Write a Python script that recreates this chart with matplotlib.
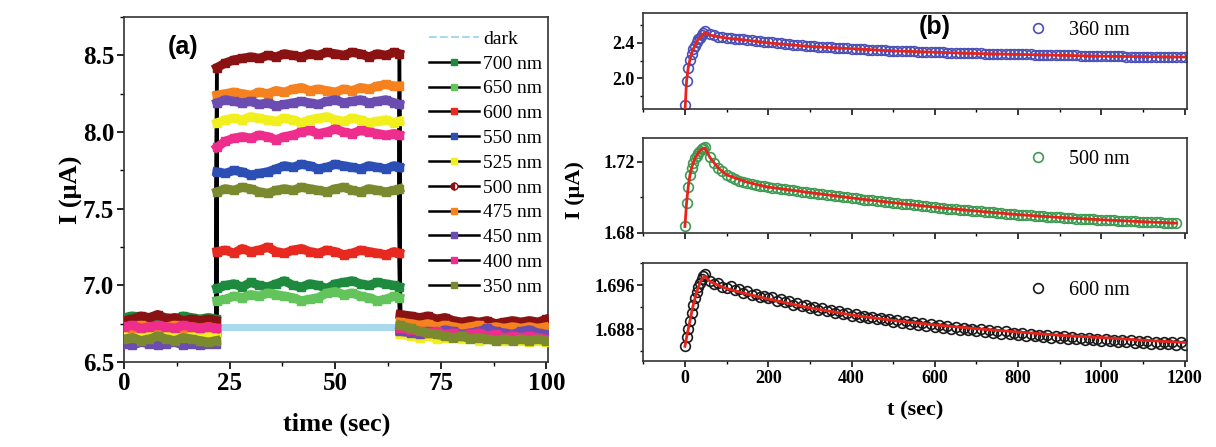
import numpy as np
import matplotlib
import matplotlib.pyplot as plt
from matplotlib.lines import Line2D
from matplotlib.ticker import MultipleLocator, FormatStrFormatter

matplotlib.use("Agg")

plt.rcParams["font.family"] = ["Liberation Serif", "DejaVu Serif"]

# ---------------- panel (a) data ----------------
T_PRE = [0, 2, 4, 6, 8, 10, 12, 14, 16, 18, 20, 21.8]
T_ON = [22, 24, 26, 28, 30, 32, 34, 36, 38, 40, 42, 44, 46, 48, 50, 52, 54, 56,
        58, 60, 62, 64, 65.2]
T_POST = [65.4, 68, 70, 72, 74, 76, 78, 80, 82, 84, 86, 88, 90, 92, 94, 96, 98, 100]

DARK_T = [0, 22, 65, 100]
DARK_I = [6.73, 6.73, 6.73, 6.73]

LABELS_A = ["700 nm", "650 nm", "600 nm", "550 nm", "525 nm", "500 nm",
            "475 nm", "450 nm", "400 nm", "350 nm"]
COLORS_A = ["#1d8a3e", "#62c45a", "#e8291f", "#2b4fb5", "#f2ef1e", "#8a1212",
            "#f5821f", "#6b4cb0", "#ee2d8c", "#7b8a2e"]

I_700 = [6.79, 6.80, 6.78, 6.79, 6.80, 6.79, 6.78, 6.80, 6.79, 6.78, 6.79, 6.78,
         6.98, 7.00, 7.01, 6.99, 7.02, 7.00, 6.99, 7.01, 7.03, 7.00, 6.99, 7.01,
         7.00, 6.98, 7.01, 7.02, 7.03, 7.01, 7.00, 7.02, 7.01, 7.00, 6.99,
         6.74, 6.73, 6.72, 6.73, 6.71, 6.72, 6.70, 6.71, 6.72, 6.70, 6.71, 6.69,
         6.70, 6.71, 6.70, 6.69, 6.70, 6.69]
I_650 = [6.70, 6.71, 6.69, 6.70, 6.71, 6.70, 6.69, 6.70, 6.71, 6.70, 6.69, 6.70,
         6.90, 6.91, 6.93, 6.92, 6.94, 6.93, 6.95, 6.94, 6.93, 6.92, 6.90, 6.91,
         6.92, 6.95, 6.96, 6.94, 6.95, 6.93, 6.92, 6.90, 6.91, 6.93, 6.92,
         6.70, 6.69, 6.68, 6.69, 6.67, 6.68, 6.67, 6.68, 6.66, 6.67, 6.68, 6.66,
         6.67, 6.66, 6.67, 6.66, 6.65, 6.66]
I_600 = [6.72, 6.71, 6.73, 6.72, 6.71, 6.72, 6.73, 6.71, 6.72, 6.71, 6.72, 6.71,
         7.22, 7.23, 7.21, 7.24, 7.22, 7.23, 7.25, 7.22, 7.21, 7.23, 7.24, 7.22,
         7.21, 7.23, 7.22, 7.20, 7.21, 7.23, 7.22, 7.21, 7.20, 7.22, 7.21,
         6.72, 6.71, 6.70, 6.71, 6.70, 6.69, 6.70, 6.69, 6.70, 6.68, 6.69, 6.70,
         6.68, 6.69, 6.68, 6.69, 6.68, 6.67]
I_550 = [6.70, 6.69, 6.70, 6.71, 6.69, 6.70, 6.68, 6.70, 6.69, 6.70, 6.68, 6.69,
         7.74, 7.73, 7.75, 7.74, 7.72, 7.73, 7.74, 7.76, 7.78, 7.77, 7.79, 7.78,
         7.76, 7.77, 7.79, 7.78, 7.77, 7.76, 7.78, 7.77, 7.76, 7.78, 7.77,
         6.70, 6.69, 6.68, 6.70, 6.68, 6.69, 6.67, 6.68, 6.69, 6.67, 6.68, 6.66,
         6.67, 6.68, 6.66, 6.67, 6.66, 6.67]
I_525 = [6.68, 6.67, 6.69, 6.68, 6.67, 6.68, 6.69, 6.67, 6.68, 6.67, 6.68, 6.67,
         8.06, 8.08, 8.09, 8.08, 8.10, 8.09, 8.08, 8.07, 8.09, 8.08, 8.06, 8.08,
         8.09, 8.10, 8.08, 8.07, 8.09, 8.08, 8.06, 8.07, 8.08, 8.06, 8.07,
         6.68, 6.67, 6.66, 6.67, 6.65, 6.66, 6.67, 6.65, 6.66, 6.64, 6.65, 6.66,
         6.64, 6.65, 6.64, 6.63, 6.64, 6.63]
I_500 = [6.77, 6.78, 6.80, 6.79, 6.81, 6.78, 6.79, 6.77, 6.78, 6.77, 6.78, 6.77,
         8.42, 8.45, 8.47, 8.48, 8.49, 8.48, 8.50, 8.49, 8.51, 8.50, 8.49, 8.51,
         8.50, 8.52, 8.51, 8.50, 8.52, 8.51, 8.49, 8.51, 8.50, 8.52, 8.51,
         6.81, 6.80, 6.79, 6.80, 6.78, 6.79, 6.77, 6.76, 6.77, 6.76, 6.77, 6.75,
         6.76, 6.77, 6.76, 6.77, 6.76, 6.78]
I_475 = [6.73, 6.72, 6.74, 6.73, 6.72, 6.73, 6.74, 6.72, 6.73, 6.72, 6.73, 6.72,
         8.24, 8.25, 8.26, 8.25, 8.24, 8.26, 8.25, 8.27, 8.26, 8.28, 8.29, 8.27,
         8.28, 8.27, 8.26, 8.28, 8.27, 8.29, 8.28, 8.30, 8.31, 8.30, 8.30,
         6.76, 6.75, 6.74, 6.75, 6.73, 6.74, 6.73, 6.72, 6.73, 6.74, 6.72, 6.73,
         6.72, 6.73, 6.72, 6.73, 6.72, 6.73]
I_450 = [6.62, 6.61, 6.63, 6.62, 6.61, 6.62, 6.63, 6.61, 6.62, 6.61, 6.62, 6.62,
         8.19, 8.21, 8.20, 8.19, 8.20, 8.18, 8.19, 8.17, 8.18, 8.19, 8.20, 8.19,
         8.18, 8.20, 8.21, 8.19, 8.20, 8.21, 8.19, 8.20, 8.21, 8.19, 8.18,
         6.70, 6.69, 6.68, 6.70, 6.69, 6.71, 6.70, 6.68, 6.69, 6.70, 6.72, 6.70,
         6.69, 6.68, 6.70, 6.71, 6.69, 6.68]
I_400 = [6.73, 6.74, 6.72, 6.73, 6.74, 6.73, 6.72, 6.74, 6.73, 6.72, 6.73, 6.72,
         7.90, 7.94, 7.96, 7.97, 7.96, 7.98, 7.97, 7.95, 7.97, 7.98, 8.00, 8.01,
         7.99, 8.00, 8.02, 8.00, 7.99, 8.01, 8.00, 7.99, 7.98, 7.99, 7.98,
         6.72, 6.71, 6.70, 6.69, 6.70, 6.68, 6.69, 6.67, 6.68, 6.69, 6.67, 6.68,
         6.66, 6.67, 6.66, 6.67, 6.66, 6.65]
I_350 = [6.65, 6.66, 6.64, 6.65, 6.67, 6.65, 6.64, 6.66, 6.65, 6.64, 6.63, 6.64,
         7.61, 7.63, 7.62, 7.64, 7.63, 7.61, 7.60, 7.62, 7.63, 7.62, 7.64, 7.63,
         7.62, 7.61, 7.63, 7.64, 7.62, 7.61, 7.63, 7.62, 7.61, 7.62, 7.63,
         6.74, 6.72, 6.70, 6.69, 6.68, 6.67, 6.66, 6.67, 6.65, 6.66, 6.65, 6.64,
         6.65, 6.64, 6.65, 6.64, 6.65, 6.64]
SERIES_A = [I_700, I_650, I_600, I_550, I_525, I_500, I_475, I_450, I_400, I_350]

# ---------------- panel (b) data ----------------
T_RISE = [0, 4, 8, 12, 16, 20, 24, 28, 32, 36, 40, 44, 48]
T_DECAY = list(range(60, 1201, 10))
FIT_T = [0, 4, 8, 12, 16, 20, 24, 28, 32, 36, 40, 44, 48, 60, 80, 100, 150, 200,
         300, 400, 500, 600, 700, 800, 900, 1000, 1100, 1200]
FIT_T_500 = FIT_T[:-1] + [1180]

I360 = [1.70, 1.97, 2.12, 2.21, 2.28, 2.33, 2.37, 2.41, 2.44, 2.46, 2.49, 2.51, 2.53,
        2.500, 2.485, 2.472, 2.466, 2.460, 2.455, 2.450, 2.446, 2.441, 2.436,
        2.431, 2.426, 2.421, 2.416, 2.411, 2.406, 2.401, 2.396, 2.391, 2.386,
        2.381, 2.377, 2.373, 2.369, 2.365, 2.361, 2.358, 2.355, 2.352, 2.349,
        2.346, 2.343, 2.340, 2.337, 2.335, 2.332, 2.330, 2.327, 2.325, 2.323,
        2.320, 2.318, 2.316, 2.314, 2.312, 2.310, 2.308, 2.306, 2.305, 2.303,
        2.301, 2.300, 2.298, 2.297, 2.295, 2.294, 2.292, 2.291, 2.290, 2.288,
        2.287, 2.286, 2.285, 2.284, 2.282, 2.281, 2.280, 2.279, 2.278, 2.277,
        2.276, 2.275, 2.274, 2.273, 2.272, 2.271, 2.270, 2.269, 2.268, 2.267,
        2.266, 2.265, 2.264, 2.263, 2.262, 2.261, 2.260, 2.259, 2.258, 2.257,
        2.256, 2.255, 2.254, 2.253, 2.252, 2.251, 2.250, 2.249, 2.248, 2.247,
        2.246, 2.246, 2.245, 2.244, 2.243, 2.243, 2.242, 2.241, 2.240, 2.240,
        2.239, 2.238, 2.238, 2.237, 2.236]
FIT360 = [1.62, 1.97, 2.12, 2.21, 2.28, 2.33, 2.37, 2.41, 2.44, 2.46, 2.48, 2.50,
          2.52, 2.49, 2.47, 2.455, 2.43, 2.40, 2.36, 2.335, 2.31, 2.295, 2.28,
          2.27, 2.26, 2.25, 2.245, 2.24]

I500 = [1.6836, 1.6970, 1.7060, 1.7125, 1.7165, 1.7195, 1.7220, 1.7235, 1.7250,
        1.7262, 1.7272, 1.7280, 1.7285,
        1.7228, 1.7195, 1.7168, 1.7146, 1.7128, 1.7115, 1.7104, 1.7095, 1.7088, 1.7082,
        1.7076, 1.7071, 1.7066, 1.7062, 1.7058, 1.7054, 1.7051, 1.7048, 1.7045, 1.7042,
        1.7039, 1.7036, 1.7033, 1.7030, 1.7027, 1.7024, 1.7021, 1.7018, 1.7015, 1.7012,
        1.7009, 1.7006, 1.7003, 1.7000, 1.6997, 1.6994, 1.6991, 1.6988, 1.6986, 1.6983,
        1.6980, 1.6977, 1.6975, 1.6972, 1.6970, 1.6967, 1.6965, 1.6962, 1.6960, 1.6957,
        1.6955, 1.6952, 1.6950, 1.6947, 1.6945, 1.6942, 1.6940, 1.6937, 1.6935, 1.6933,
        1.6931, 1.6929, 1.6927, 1.6925, 1.6923, 1.6921, 1.6919, 1.6917, 1.6915, 1.6913,
        1.6911, 1.6909, 1.6907, 1.6905, 1.6903, 1.6901, 1.6900, 1.6898, 1.6896, 1.6894,
        1.6893, 1.6891, 1.6890, 1.6888, 1.6887, 1.6885, 1.6884, 1.6882, 1.6881, 1.6880,
        1.6879, 1.6877, 1.6876, 1.6875, 1.6874, 1.6872, 1.6871, 1.6870, 1.6869, 1.6868,
        1.6867, 1.6866, 1.6865, 1.6864, 1.6863, 1.6862, 1.6861, 1.6860, 1.6859, 1.6858,
        1.6857, 1.6856, 1.6855]
FIT500 = [1.6836, 1.6970, 1.7060, 1.7125, 1.7165, 1.7195, 1.7220, 1.7235, 1.7250,
          1.7262, 1.7270, 1.7275, 1.7278, 1.7225, 1.7165, 1.7127, 1.7085, 1.7058,
          1.7027, 1.6997, 1.6970, 1.6945, 1.6923, 1.6903, 1.6887, 1.6874, 1.6863,
          1.6855]

I600 = [1.6849, 1.6866, 1.6880, 1.6895, 1.6910, 1.6925, 1.6937, 1.6948, 1.6957,
        1.6965, 1.6972, 1.6977, 1.6981,
        1.6968, 1.6962, 1.6964, 1.6957, 1.6955, 1.6958, 1.6951, 1.6953, 1.6946, 1.6949,
        1.6942, 1.6945, 1.6939, 1.6941, 1.6936, 1.6938, 1.6931, 1.6935, 1.6929, 1.6931,
        1.6925, 1.6928, 1.6922, 1.6925, 1.6918, 1.6921, 1.6915, 1.6919, 1.6913, 1.6915,
        1.6910, 1.6913, 1.6907, 1.6910, 1.6904, 1.6908, 1.6902, 1.6905, 1.6900, 1.6903,
        1.6898, 1.6901, 1.6896, 1.6899, 1.6894, 1.6897, 1.6892, 1.6895, 1.6890, 1.6893,
        1.6888, 1.6891, 1.6886, 1.6889, 1.6884, 1.6887, 1.6882, 1.6886, 1.6881, 1.6884,
        1.6879, 1.6883, 1.6878, 1.6881, 1.6876, 1.6880, 1.6875, 1.6878, 1.6874, 1.6877,
        1.6872, 1.6876, 1.6871, 1.6874, 1.6870, 1.6873, 1.6868, 1.6872, 1.6867, 1.6870,
        1.6866, 1.6869, 1.6865, 1.6868, 1.6864, 1.6867, 1.6863, 1.6866, 1.6862, 1.6865,
        1.6861, 1.6864, 1.6860, 1.6863, 1.6859, 1.6862, 1.6858, 1.6861, 1.6857, 1.6860,
        1.6856, 1.6860, 1.6855, 1.6859, 1.6855, 1.6858, 1.6854, 1.6857, 1.6853, 1.6857,
        1.6853, 1.6856, 1.6852, 1.6856, 1.6852]
FIT600 = [1.6849, 1.6865, 1.6880, 1.6895, 1.6910, 1.6924, 1.6936, 1.6947, 1.6956,
          1.6964, 1.6970, 1.6974, 1.6976, 1.6967, 1.6960, 1.6954, 1.6944, 1.6935,
          1.6919, 1.6906, 1.6896, 1.6888, 1.6881, 1.6875, 1.6869, 1.6865, 1.6860,
          1.6856]

fig = plt.figure(figsize=(12.16, 4.47), dpi=100)

# ---------------- panel (a) ----------------
ax = fig.add_axes([0.102, 0.190, 0.349, 0.772])
ax.plot(DARK_T, DARK_I, color="#a9d9ec", lw=5, zorder=1.5)

t_all = T_PRE + T_ON + T_POST
n1, n2 = len(T_PRE), len(T_PRE) + len(T_ON)
for vals in SERIES_A:
    ax.plot(t_all, vals, color="black", lw=2.8, zorder=2)
for vals, c in zip(SERIES_A, COLORS_A):
    for ts, vs in ((T_PRE, vals[:n1]), (T_ON, vals[n1:n2]), (T_POST, vals[n2:])):
        ax.plot(ts, vs, color=c, lw=6.5, marker="s", ms=5.5, mec=c, zorder=3)

ax.set_xlim(0, 100.5)
ax.set_ylim(6.5, 8.75)
ax.xaxis.set_major_locator(MultipleLocator(25))
ax.xaxis.set_minor_locator(MultipleLocator(12.5))
ax.yaxis.set_major_locator(MultipleLocator(0.5))
ax.yaxis.set_minor_locator(MultipleLocator(0.25))
ax.yaxis.set_major_formatter(FormatStrFormatter("%.1f"))
ax.tick_params(which="major", direction="out", length=5, width=1.2,
               labelsize=18, pad=2)
ax.tick_params(which="minor", direction="out", length=3, width=1)
for lab in ax.get_xticklabels() + ax.get_yticklabels():
    lab.set_fontweight("bold")
for sp in ax.spines.values():
    sp.set_linewidth(1.2)
    sp.set_color("#333333")
ax.set_xlabel("time (sec)", fontsize=19, fontweight="bold", labelpad=13)
ax.set_ylabel("I (\u03bcA)", fontsize=19, fontweight="bold", labelpad=0)
ax.text(0.139, 0.913, "(a)", transform=ax.transAxes, fontsize=18,
        fontweight="bold", family=["Liberation Sans", "DejaVu Sans"],
        ha="center", va="center")

handles = [Line2D([], [], color="#a9d9ec", lw=1.5, ls="--")]
for lab, c in zip(LABELS_A, COLORS_A):
    if lab == "500 nm":
        handles.append(Line2D([], [], color="black", lw=1.8, marker="o", ms=5,
                              fillstyle="left", mfc=c, mfcalt="white", mec=c))
    else:
        handles.append(Line2D([], [], color="black", lw=1.8, marker="s", ms=5,
                              mfc=c, mec=c))
leg = ax.legend(handles, ["dark"] + LABELS_A, loc="upper left",
                bbox_to_anchor=(0.695, 0.99), frameon=False, fontsize=14,
                labelspacing=0.37, handlelength=2.6, handletextpad=0.2,
                borderpad=0, numpoints=1)

# ---------------- panel (b) ----------------
x0, w = 0.529, 0.447
boxes = [[x0, 0.756, w, 0.215], [x0, 0.479, w, 0.2125], [x0, 0.192, w, 0.219]]
t_b = T_RISE + T_DECAY
panels = [
    (I360, t_b, FIT360, FIT_T, "#4a50b5", "360 nm", (1.65, 2.74), 0.4, 0.2, "%.1f", 0.82),
    (I500, t_b[:-2], FIT500, FIT_T_500, "#3e9a52", "500 nm", (1.68, 1.7335), 0.04, 0.02, "%.2f", 0.77),
    (I600, t_b, FIT600, FIT_T, "#1a1a1a", "600 nm", (1.6822, 1.700), 0.008, 0.004, "%.3f", 0.72),
]
axes_b = []
for box, (vals, ts, fit, fit_t, c, lab, ylim, maj, mnr, fmt, ly) in zip(boxes, panels):
    axb = fig.add_axes(box)
    axb.plot(ts, vals, ls="none", marker="o", ms=7, mfc="none", mec=c,
             mew=1.2, zorder=2)
    axb.plot(fit_t, fit, color="#e8241a", lw=2, zorder=3)
    axb.set_xlim(-100, 1205)
    axb.set_ylim(*ylim)
    axb.xaxis.set_major_locator(MultipleLocator(200))
    axb.xaxis.set_minor_locator(MultipleLocator(100))
    axb.yaxis.set_major_locator(MultipleLocator(maj))
    axb.yaxis.set_minor_locator(MultipleLocator(mnr))
    axb.yaxis.set_major_formatter(FormatStrFormatter(fmt))
    axb.tick_params(which="major", direction="out", length=4, width=1.1,
                    labelsize=13, pad=2)
    axb.tick_params(which="minor", direction="out", length=2.5, width=1)
    for t in axb.get_xticklabels() + axb.get_yticklabels():
        t.set_fontweight("bold")
    for sp in axb.spines.values():
        sp.set_linewidth(1.2)
        sp.set_color("#333333")
    h = Line2D([], [], ls="none", marker="o", ms=7, mfc="none", mec=c, mew=1.2)
    axb.legend([h], [lab], loc="center left", bbox_to_anchor=(0.69, ly),
               frameon=False, fontsize=14.5, handlelength=1.0, handletextpad=1.0,
               borderpad=0, numpoints=1)
    axes_b.append(axb)

axes_b[0].tick_params(labelbottom=False)
axes_b[1].tick_params(labelbottom=False)
axes_b[2].set_xlabel("t (sec)", fontsize=16, fontweight="bold", labelpad=10)
axes_b[0].text(0.537, 0.85, "(b)", transform=axes_b[0].transAxes, fontsize=18,
               fontweight="bold", family=["Liberation Sans", "DejaVu Sans"],
               ha="center", va="center")
fig.text(0.473, 0.575, "I (\u03bcA)", rotation=90, fontsize=16,
         fontweight="bold", ha="center", va="center")

plt.savefig("out.png", dpi=100)
